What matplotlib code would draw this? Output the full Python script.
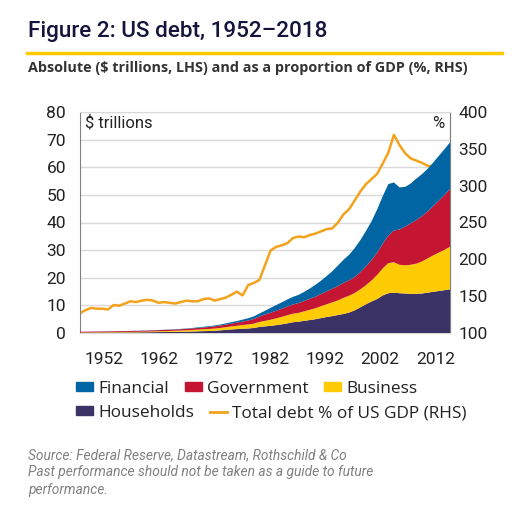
import numpy as np
import matplotlib.pyplot as plt
from matplotlib.patches import Patch
from matplotlib.lines import Line2D

plt.rcParams['font.family'] = ['Roboto', 'DejaVu Sans']

years = np.arange(1952, 2019)

# $ trillions, by sector
households = [0.09, 0.10, 0.11, 0.13, 0.14, 0.15, 0.16, 0.18, 0.20, 0.21,
              0.23, 0.26, 0.28, 0.31, 0.33, 0.35, 0.38, 0.41, 0.44, 0.48,
              0.54, 0.61, 0.67, 0.73, 0.82, 0.96, 1.12, 1.29, 1.42, 1.55,
              1.64, 1.81, 2.20, 2.40, 2.60, 2.85, 3.15, 3.50, 3.90, 4.10,
              4.40, 4.70, 5.00, 5.40, 5.80, 6.10, 6.50, 6.90, 7.40, 8.20,
              9.30, 10.4, 11.4, 12.3, 13.6, 14.4, 14.6, 14.4, 14.3, 14.2,
              14.2, 14.3, 14.6, 14.9, 15.2, 15.5, 15.8]
business = [0.10, 0.10, 0.11, 0.12, 0.13, 0.14, 0.15, 0.16, 0.17, 0.19,
            0.20, 0.22, 0.24, 0.27, 0.30, 0.33, 0.37, 0.41, 0.45, 0.49,
            0.55, 0.62, 0.70, 0.73, 0.79, 0.87, 0.97, 1.09, 1.20, 1.35,
            1.45, 1.57, 1.80, 2.00, 2.20, 2.45, 2.70, 2.95, 3.10, 3.20,
            3.45, 3.70, 3.95, 4.30, 4.60, 5.00, 5.30, 5.80, 6.10, 6.30,
            6.50, 6.90, 7.60, 8.70, 9.80, 10.9, 11.0, 10.3, 10.2, 10.5,
            10.9, 11.6, 12.4, 13.2, 13.9, 14.6, 15.4]
government = [0.27, 0.28, 0.29, 0.29, 0.29, 0.30, 0.31, 0.32, 0.32, 0.33,
              0.35, 0.36, 0.37, 0.38, 0.40, 0.42, 0.44, 0.45, 0.48, 0.53,
              0.57, 0.60, 0.64, 0.73, 0.81, 0.88, 0.95, 1.02, 1.12, 1.25,
              1.45, 1.70, 1.95, 2.30, 2.55, 2.75, 2.95, 3.15, 3.35, 3.55,
              3.75, 4.00, 4.20, 4.45, 4.70, 4.95, 5.20, 5.40, 5.60, 5.80,
              6.20, 6.80, 7.40, 8.10, 8.90, 10.0, 11.5, 12.8, 14.0, 15.0,
              15.8, 16.4, 17.0, 17.8, 18.8, 19.8, 21.0]
financial = [0.01, 0.01, 0.01, 0.02, 0.02, 0.02, 0.02, 0.03, 0.03, 0.03,
             0.04, 0.04, 0.05, 0.06, 0.07, 0.07, 0.08, 0.11, 0.12, 0.13,
             0.16, 0.21, 0.25, 0.26, 0.29, 0.34, 0.42, 0.51, 0.58, 0.69,
             0.80, 0.92, 1.10, 1.35, 1.75, 2.05, 2.30, 2.55, 2.75, 2.95,
             3.30, 3.70, 4.30, 4.80, 5.50, 6.30, 7.40, 8.40, 9.20, 10.4,
             11.6, 12.8, 14.0, 15.6, 17.2, 18.6, 17.4, 15.2, 14.4, 14.4,
             15.0, 15.2, 15.4, 15.8, 16.2, 16.6, 16.8]

# total debt, % of GDP (RHS)
debt_gdp = [127, 131, 134, 133, 133, 132, 138, 137, 140, 143,
            142, 144, 145, 144, 141, 142, 141, 140, 142, 144,
            143, 143, 146, 147, 144, 146, 148, 152, 156, 151,
            165, 168, 172, 192, 212, 217, 219, 222, 229, 231,
            230, 233, 235, 238, 241, 242, 250, 261, 268, 280,
            292, 302, 309, 316, 330, 345, 369, 355, 344, 337,
            334, 331, 327, 326, 328, 327, 324]

tick_labels = ["1952", "1962", "1972", "1982", "1992", "2002", "2012"]

c_fin = "#0065a2"
c_gov = "#c41632"
c_bus = "#ffcb05"
c_hh = "#3b3266"
c_line = "#f4a21c"


def to_lhs(p):
    return (np.asarray(p) - 100) / 3.75


def to_rhs(v):
    return np.asarray(v) * 3.75 + 100


fig = plt.figure(figsize=(5.15, 5.21), dpi=100)
ax = fig.add_axes([80 / 515, 188 / 521, 370 / 515, 221 / 521])

# line sits behind the areas
ax.plot(years, to_lhs(debt_gdp), color=c_line, lw=1.8, zorder=2)
ax.stackplot(years, households, business, government, financial,
             colors=[c_hh, c_bus, c_gov, c_fin], lw=0, zorder=3)

ax.set_xlim(1952, 2018)
ax.set_ylim(0, 80)
ax.set_yticks(range(0, 81, 10))
ax.grid(axis="y", color="#d9d9d9", lw=1, zorder=0)
ax.set_axisbelow(True)

# labels sit a little right of the category start, as in the source
ax.set_xticks([1956.3 + 9.85 * i for i in range(len(tick_labels))])
ax.set_xticklabels(tick_labels)

for s in ["left", "right"]:
    ax.spines[s].set_color("#808080")
for s in ["top", "bottom"]:
    ax.spines[s].set_color("#d9d9d9")
ax.tick_params(axis="both", length=0, labelsize=12.5, colors="#222222")
ax.tick_params(axis="y", pad=10)
ax.tick_params(axis="x", pad=14)

sec = ax.secondary_yaxis("right", functions=(to_rhs, to_lhs))
sec.set_yticks(range(100, 401, 50))
sec.tick_params(length=0, labelsize=12.5, colors="#222222", pad=6)
sec.spines["right"].set_color("#808080")

ax.text(0.013, 0.95, "$ trillions", transform=ax.transAxes, ha="left",
        va="center", fontsize=12, color="#222222")
ax.text(0.985, 0.95, "%", transform=ax.transAxes, ha="right",
        va="center", fontsize=12, color="#222222")

# header
fig.text(28 / 515, 1 - 31 / 521, "Figure 2: US debt, 1952\u20132018",
         fontsize=16.2, color="#14143c", weight="medium", va="center")
fig.add_artist(Line2D([27 / 515, 502 / 515], [1 - 53 / 521, 1 - 53 / 521],
                      color="#ffc800", lw=2.5))
fig.text(28 / 515, 1 - 68 / 521,
         "Absolute ($ trillions, LHS) and as a proportion of GDP (%, RHS)",
         fontsize=10.4, color="#333333", weight="bold", va="center",
         family=["Open Sans", "DejaVu Sans"])

# legend in two rows
row1 = [Patch(color=c_fin, label="Financial"),
        Patch(color=c_gov, label="Government"),
        Patch(color=c_bus, label="Business")]
row2 = [Patch(color=c_hh, label="Households"),
        Line2D([], [], color=c_line, lw=2, label="Total debt % of US GDP (RHS)")]
leg_kw = dict(frameon=False, handlelength=1.0, handleheight=0.45,
              handletextpad=0.3, columnspacing=0.9, borderpad=0,
              borderaxespad=0, loc="center left",
              prop={"family": ["Open Sans", "DejaVu Sans"], "size": 12.4})
fig.legend(handles=row1, ncol=3, bbox_to_anchor=(76 / 515, 1 - 389 / 521),
           labelcolor="#222222", **leg_kw)
fig.legend(handles=row2, ncol=2, bbox_to_anchor=(76 / 515, 1 - 413 / 521),
           labelcolor="#222222", **leg_kw)

fig.text(28 / 515, 1 - 448 / 521,
         "Source: Federal Reserve, Datastream, Rothschild & Co\n"
         "Past performance should not be taken as a guide to future\n"
         "performance.",
         fontsize=9.9, color="#808080", style="italic", va="top",
         linespacing=1.3)

fig.savefig("out.png", dpi=100)
